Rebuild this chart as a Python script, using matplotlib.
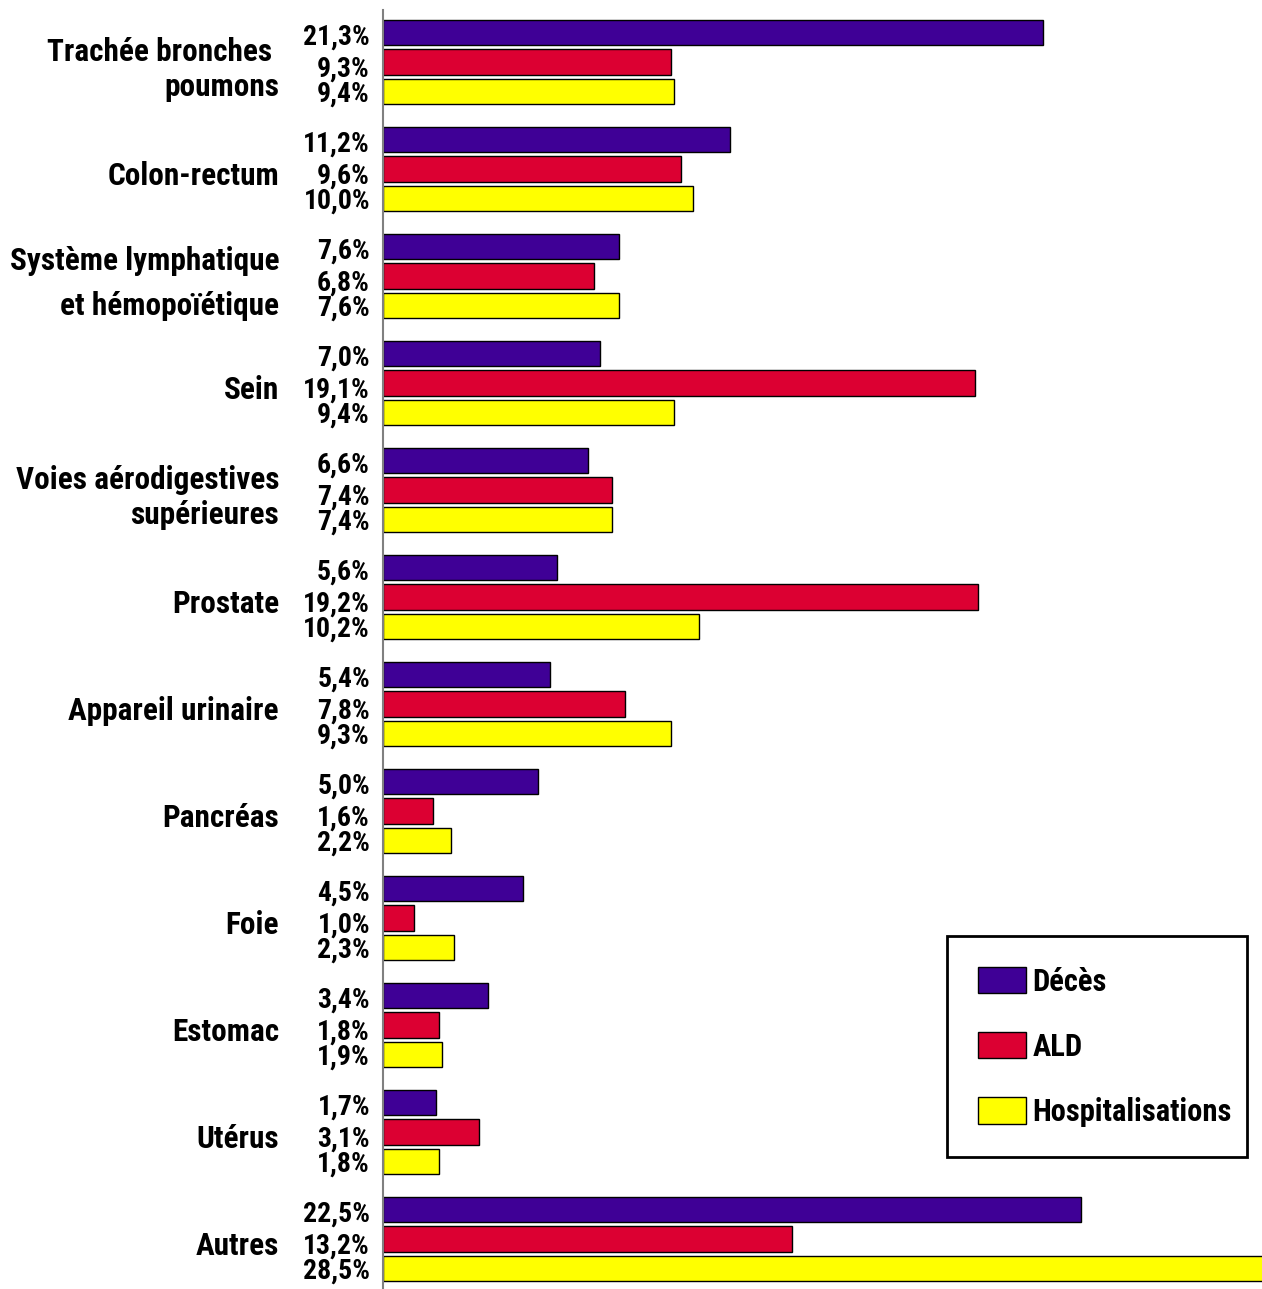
import matplotlib
matplotlib.use("Agg")
import matplotlib.pyplot as plt
from matplotlib.patches import Rectangle
import numpy as np

categories = ["Trachée bronches \npoumons", "Colon-rectum", "Système lymphatique\net hémopoïétique",
              "Sein", "Voies aérodigestives\nsupérieures", "Prostate", "Appareil urinaire",
              "Pancréas", "Foie", "Estomac", "Utérus", "Autres"]
deces = [21.3, 11.2, 7.6, 7.0, 6.6, 5.6, 5.4, 5.0, 4.5, 3.4, 1.7, 22.5]
ald = [9.3, 9.6, 6.8, 19.1, 7.4, 19.2, 7.8, 1.6, 1.0, 1.8, 3.1, 13.2]
hosp = [9.4, 10.0, 7.6, 9.4, 7.4, 10.2, 9.3, 2.2, 2.3, 1.9, 1.8, 28.5]
series_names = ["Décès", "ALD", "Hospitalisations"]
colors = ["#3F0096", "#DC0032", "#FFFF00"]

FONT = ["Roboto Condensed", "PT Sans Narrow", "Liberation Sans", "DejaVu Sans"]
plt.rcParams['font.family'] = FONT

W, H = 1262, 1289
fig = plt.figure(figsize=(W / 100, H / 100), dpi=100)
ax = fig.add_axes([383 / W, 0, 1 - 383 / W, 1])

n = len(categories)
y = np.arange(n)
off = 0.275
hgt = 0.238
for k, vals in enumerate([deces, ald, hosp]):
    ax.barh(y + (k - 1) * off, vals, height=hgt, color=colors[k], edgecolor="black",
            linewidth=1.0, label=series_names[k], zorder=2)

# value labels
lab_off = [-0.23, 0.065, 0.30]
for k, vals in enumerate([deces, ald, hosp]):
    for i, v in enumerate(vals):
        ax.annotate(f"{v:.1f}%".replace(".", ","), xy=(0, i + lab_off[k]),
                    xycoords="data", xytext=(-13, 0), textcoords="offset pixels",
                    ha="right", va="center", fontsize=20, fontweight="bold",
                    annotation_clip=False)

# category labels
for i, c in enumerate(categories):
    ls = 1.6 if c.startswith("Système") else 1.2
    ax.annotate(c, xy=(0, i + 0.07), xycoords="data", xytext=(-104, 0),
                textcoords="offset pixels", ha="right", va="center",
                fontsize=22.5, fontweight="bold", linespacing=ls,
                multialignment="right", annotation_clip=False)

px = 107.0
top_c = 62.0
ax.set_ylim((H - top_c) / px, -top_c / px)
ax.set_xlim(0, (W - 383) / 31.0)
ax.set_xticks([])
ax.set_yticks([])
for s in ["top", "right", "bottom"]:
    ax.spines[s].set_visible(False)
ax.spines["left"].set_color("#808080")
ax.spines["left"].set_linewidth(1.5)
ax.spines["left"].set_bounds((H - top_c) / px, (10 - top_c) / px)

leg = ax.legend(loc="upper left", bbox_to_anchor=(947 / W, 1 - 936 / H),
                bbox_transform=fig.transFigure, frameon=False,
                handlelength=1.6, handleheight=0.95,
                handletextpad=0.2, labelspacing=1.15, borderpad=1.0,
                borderaxespad=0, prop={"weight": "bold", "size": 22, "family": FONT})
fig.patches.append(Rectangle((947 / W, 1 - 1157 / H), 300 / W, 221 / H,
                             transform=fig.transFigure, fill=False,
                             edgecolor="black", linewidth=2, zorder=5))

fig.savefig("out.png", dpi=100)
